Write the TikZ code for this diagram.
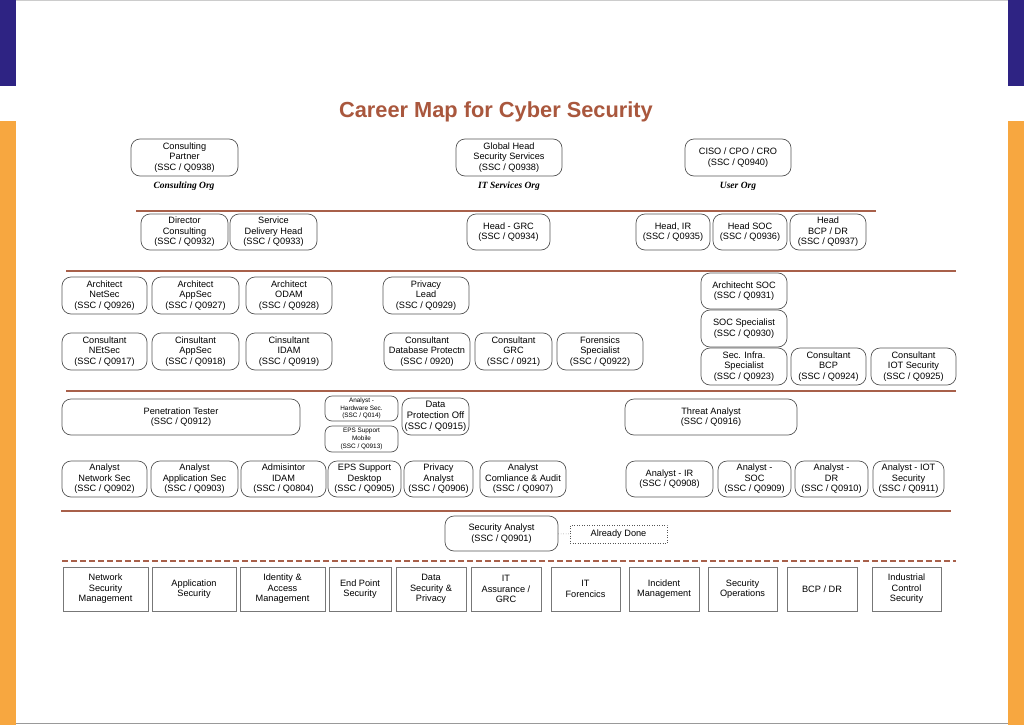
\documentclass[tikz,border=0pt]{standalone}
\usepackage{fontspec}
\setmainfont{Liberation Sans}
\newfontfamily\orgserif{Liberation Serif}
\usepackage{xcolor}
\usetikzlibrary{shadows}
\definecolor{cmPurple}{HTML}{2E2383}
\definecolor{cmOrange}{HTML}{F7A740}
\definecolor{cmBrown}{HTML}{A9573D}
\definecolor{cmLine}{HTML}{A8604A}
\definecolor{cmGrey}{HTML}{555555}
\newcommand\jobfont{\fontsize{9.2}{10.5}\selectfont}
\newcommand\tinyjobfont{\fontsize{6.4}{7.6}\selectfont}

\begin{document}
\begin{tikzpicture}[x=1pt,y=-1pt]
    \tikzset{
        jobbox/.style={draw=cmGrey,line width=0.7pt,fill=white,rounded corners=9pt,align=center,inner sep=1pt,
            minimum width=#1pt,minimum height=36pt,font=\jobfont},
        areabox/.style={draw=cmGrey!80,line width=0.6pt,fill=white,align=center,inner sep=1pt,minimum height=44pt,
            font=\jobfont,drop shadow={shadow xshift=1pt,shadow yshift=-1.2pt,opacity=0.35}},
        orglabel/.style={font=\orgserif\fontsize{9.5}{11}\selectfont\bfseries\itshape},
        sepline/.style={cmLine,line width=2.2pt},
        donebox/.style={draw=cmGrey,dotted,line width=0.5pt,minimum width=97pt,minimum height=18pt,font=\jobfont}
    }
    \useasboundingbox (0,0) rectangle (1024,725);
    \fill[cmPurple] (0,0) rectangle (16,86);
    \fill[cmPurple] (1008,0) rectangle (1024,86);
    \fill[cmOrange] (0,121) rectangle (16,725);
    \fill[cmOrange] (1008,121) rectangle (1024,725);
    \draw[gray!40] (16,0.5) -- (1008,0.5);
    \draw[gray!80,line width=1.2pt] (16,723.5) -- (1008,723.5);

    \node[font=\fontsize{21.8}{24}\selectfont\bfseries,text=cmBrown] (title) at (496,112) {Career Map for Cyber Security};

    \foreach \y/\a/\b in {211/136/876, 271/66/956, 391/66/956, 511/61/951}
        \draw[sepline] (\a,\y) -- (\b,\y);
    \draw[sepline,line width=2pt,dash pattern=on 6pt off 3pt] (62,561) -- (956,561);

    \node[jobbox=107,minimum height=37pt] (partner) at (184.5,157.5) {Consulting\\Partner\\(SSC / Q0938)};
    \node[jobbox=106,minimum height=37pt] (globalhead) at (509,157.5) {Global Head\\Security Services\\(SSC / Q0938)};
    \node[jobbox=106,minimum height=37pt] (ciso) at (738,157.5) {CISO / CPO / CRO\\(SSC / Q0940)};
    \node[orglabel] (consorg) at (184,186) {Consulting Org};
    \node[orglabel] (itorg) at (509,186) {IT Services Org};
    \node[orglabel] (userorg) at (738,186) {User Org};

    \node[jobbox=87] (dircons) at (184.5,232) {Director\\Consulting\\(SSC / Q0932)};
    \node[jobbox=87] (sdhead) at (273.5,232) {Service\\Delivery Head\\(SSC / Q0933)};
    \node[jobbox=83] (headgrc) at (508.5,232) {Head - GRC\\(SSC / Q0934)};
    \node[jobbox=74] (headir) at (673,232) {Head, IR\\(SSC / Q0935)};
    \node[jobbox=74] (headsoc) at (750,232) {Head SOC\\(SSC / Q0936)};
    \node[jobbox=76] (headbcp) at (828,232) {Head\\BCP / DR\\(SSC / Q0937)};

    \node[jobbox=85,minimum height=37pt] (archnet) at (104.5,295.5) {Architect\\NetSec\\(SSC / Q0926)};
    \node[jobbox=87,minimum height=37pt] (archapp) at (195.5,295.5) {Architect\\AppSec\\(SSC / Q0927)};
    \node[jobbox=86,minimum height=37pt] (archodam) at (289,295.5) {Architect\\ODAM\\(SSC / Q0928)};
    \node[jobbox=86,minimum height=37pt] (privlead) at (426,295.5) {Privacy\\Lead\\(SSC / Q0929)};
    \node[jobbox=86] (archsoc) at (744,291) {Architecht SOC\\(SSC / Q0931)};
    \node[jobbox=86,minimum height=37pt] (socspec) at (744,328.5) {SOC Specialist\\(SSC / Q0930)};

    \node[jobbox=85,minimum height=37pt] (consnet) at (104.5,351.5) {Consultant\\NEtSec\\(SSC / Q0917)};
    \node[jobbox=87,minimum height=37pt] (consapp) at (195.5,351.5) {Cinsultant\\AppSec\\(SSC / Q0918)};
    \node[jobbox=86,minimum height=37pt] (considam) at (289,351.5) {Cinsultant\\IDAM\\(SSC / Q0919)};
    \node[jobbox=86,minimum height=37pt] (consdb) at (427,351.5) {Consultant\\Database Protectn\\(SSC / 0920)};
    \node[jobbox=77,minimum height=37pt] (consgrc) at (513.5,351.5) {Consultant\\GRC\\(SSC / 0921)};
    \node[jobbox=86,minimum height=37pt] (forensic) at (600,351.5) {Forensics\\Specialist\\(SSC / Q0922)};
    \node[jobbox=86,minimum height=37pt] (secinfra) at (744,366.5) {Sec. Infra.\\Specialist\\(SSC / Q0923)};
    \node[jobbox=75,minimum height=37pt] (consbcp) at (828.5,366.5) {Consultant\\BCP\\(SSC / Q0924)};
    \node[jobbox=85,minimum height=37pt] (consiot) at (913.5,366.5) {Consultant\\IOT Security\\(SSC / Q0925)};

    \node[jobbox=238] (pentest) at (181,417) {Penetration Tester\\(SSC / Q0912)};
    \node[jobbox=73,minimum height=25pt,font=\tinyjobfont,rounded corners=7pt] (hwsec) at (361.5,408.5) {Analyst -\\Hardware Sec.\\(SSC / Q014)};
    \node[jobbox=73,minimum height=26pt,font=\tinyjobfont,rounded corners=7pt] (epsmob) at (361.5,439) {EPS Support\\Mobile\\(SSC / Q0913)};
    \node[jobbox=67,minimum height=37pt,font=\fontsize{9.4}{10.8}\selectfont] (dataprot) at (435.5,416.5) {Data\\Protection Off\\(SSC / Q0915)};
    \node[jobbox=172] (threat) at (711,417) {Threat Analyst\\(SSC / Q0916)};

    \node[jobbox=85] (annet) at (104.5,479) {Analyst\\Network Sec\\(SSC / Q0902)};
    \node[jobbox=87] (anapp) at (194.5,479) {Analyst\\Application Sec\\(SSC / Q0903)};
    \node[jobbox=85] (adidam) at (283.5,479) {Admisintor\\IDAM\\(SSC / Q0804)};
    \node[jobbox=73] (epsdesk) at (364.5,479) {EPS Support\\Desktop\\(SSC / Q0905)};
    \node[jobbox=69] (privan) at (438.5,479) {Privacy\\Analyst\\(SSC / Q0906)};
    \node[jobbox=86] (ancomp) at (523,479) {Analyst\\Comliance \& Audit\\(SSC / Q0907)};
    \node[jobbox=87] (anir) at (669.5,479) {Analyst - IR\\(SSC / Q0908)};
    \node[jobbox=73] (ansoc) at (754.5,479) {Analyst -\\SOC\\(SSC / Q0909)};
    \node[jobbox=73] (andr) at (831.5,479) {Analyst -\\DR\\(SSC / Q0910)};
    \node[jobbox=71] (aniot) at (908.5,479) {Analyst - IOT\\Security\\(SSC / Q0911)};

    \node[jobbox=113,minimum height=35pt] (secan) at (501.5,533.5) {Security Analyst\\(SSC / Q0901)};
    \node[donebox] (done) at (618.5,534) {Already Done};
    \draw[cmGrey,dotted,line width=0.5pt] (secan) -- (done);

    \foreach \n/\x/\w/\t in {dnet/105.5/85/{Network\\Security\\Management},
        dapp/194/84/{Application\\Security},
        didam/282.5/85/{Identity \&\\Access\\Management},
        dend/360/62/{End Point\\Security},
        ddata/431/70/{Data\\Security \&\\Privacy},
        dgrc/506/70/{IT\\Assurance /\\GRC},
        dfor/585.5/69/{IT\\Forencics},
        dinc/664/70/{Incident\\Management},
        dsoc/742.5/69/{Security\\Operations},
        dbcp/822/70/{BCP / DR},
        dics/906.5/69/{Industrial\\Control\\Security}}
        \node[areabox,minimum width=\w pt] (\n) at (\x,589) {\t};
\end{tikzpicture}
\end{document}
